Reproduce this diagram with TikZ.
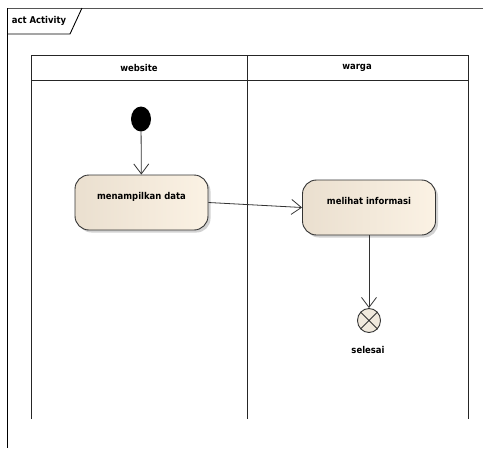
\documentclass[tikz,border=0pt]{standalone}
\usepackage{fontspec}
\setmainfont{DejaVu Sans Condensed}
\usetikzlibrary{arrows.meta,shadows,shapes.geometric}

\definecolor{actleft}{HTML}{EADFCF}
\definecolor{actright}{HTML}{FBF2E4}
\definecolor{framegrey}{HTML}{555555}

\begin{document}
\begin{tikzpicture}[x=1pt,y=-1pt,
  lbl/.style={font=\fontsize{9.4}{11}\selectfont\bfseries, inner sep=1pt},
  action/.style={rounded corners=14pt, draw=black!80, line width=0.9pt,
    minimum width=133pt, minimum height=55pt,
    left color=actleft, right color=actright,
    drop shadow={opacity=0.35, shadow xshift=2.5pt, shadow yshift=-2.5pt},
    text depth=13pt, lbl},
  flow/.style={-{Straight Barb[length=10pt,width=15pt]}, line width=0.8pt, black!80},
  lane/.style={line width=1pt, black!85}]

\fill[white] (0,0) rectangle (488,448);
\useasboundingbox (0,0) rectangle (488,448);

% diagram frame and its name tab
\draw[framegrey, line width=0.9pt] (483,8) -- (7,8);
\draw[black, line width=0.9pt] (7,8) -- (7,448);
\draw[black, line width=0.9pt] (7,34) -- (70,34) -- (82,8);
\node[lbl] (acttitle) at (39,21) {act Activity};

% swimlanes (no bottom edge)
\draw[lane] (31,419) -- (31,55) -- (468,55) -- (468,419);
\draw[lane] (31,80) -- (468,80);
\draw[lane] (247,55) -- (247,419);
\node[lbl] (lanesite) at (139,67.5) {website};
\node[lbl] (lanewarga) at (357,67.5) {warga};

% nodes
\node[ellipse, fill=black, minimum width=20pt, minimum height=25pt, inner sep=0pt] (start) at (141,119) {};
\node[action] (show) at (141.5,202.5) {menampilkan data};
\node[action] (view) at (369,207.5) {melihat informasi};
\node[ellipse, draw=black!80, line width=0.9pt, fill=actleft!70,
      minimum width=23pt, minimum height=24pt, inner sep=0pt] (finish) at (369,320.5) {};
\draw[black!80, line width=0.9pt] (finish.45) -- (finish.225) (finish.135) -- (finish.315);
\node[lbl] (finishlbl) at (368,350) {selesai};

% control flows
\draw[flow] (start) -- (show);
\draw[flow] (show.east) -- (view.west);
\draw[flow] (view) -- (finish);
\end{tikzpicture}
\end{document}
